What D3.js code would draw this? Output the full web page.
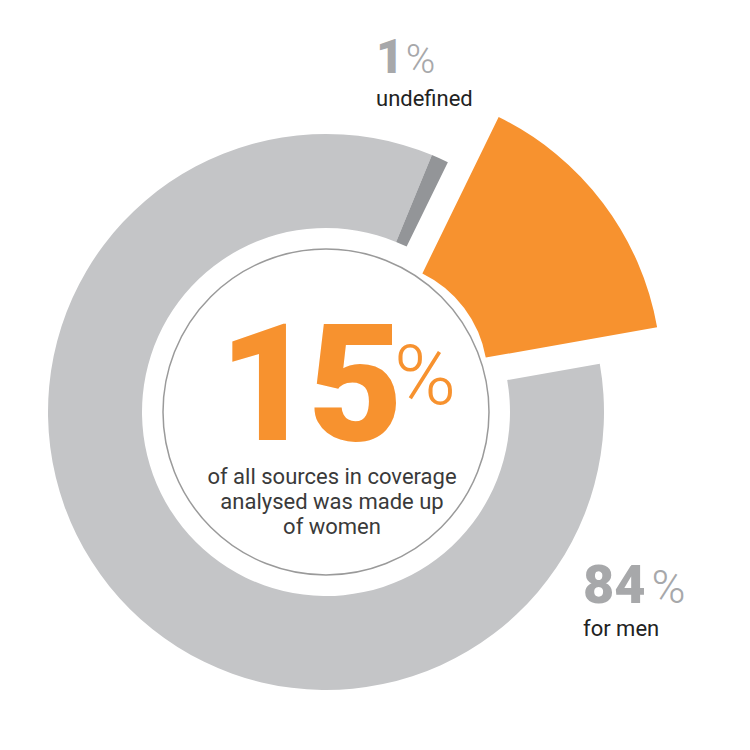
<!DOCTYPE html>
<html><head><meta charset="utf-8">
<script src="https://cdn.jsdelivr.net/npm/d3@7"></script>
<style>body{margin:0;background:#fff}</style></head>
<body><svg id="c" width="750" height="750"></svg>
<script>
const categories = ["men", "undefined", "women"];
const values = [84, 1, 15];
const colors = ["#c4c5c7", "#939598", "#f7922f"];
const labels = [
  {num: "84", text: "for men"},
  {num: "1", text: "undefined"},
  {num: "15", text: "of all sources in coverage|analysed was made up|of women"}
];
const svg = d3.select("#c");
const cx = 326, cy = 412;
const g = svg.append("g").attr("transform", `translate(${cx},${cy})`);
const start = 80 * Math.PI / 180;
const pie = d3.pie().sort(null).startAngle(start).endAngle(start + 2 * Math.PI);
const arcs = pie(values);
const ringArc = d3.arc().innerRadius(184).outerRadius(278);
const bigArc = d3.arc().innerRadius(116).outerRadius(290);
arcs.forEach((a, i) => {
  if (i === 2) {
    const mid = (a.startAngle + a.endAngle) / 2, off = 57;
    g.append("path").attr("d", bigArc(a)).attr("fill", colors[i])
      .attr("transform", `translate(${off * Math.sin(mid)},${-off * Math.cos(mid)})`);
  } else {
    g.append("path").attr("d", ringArc(a)).attr("fill", colors[i]);
  }
});
g.append("circle").attr("r", 163).attr("fill", "#fff").attr("stroke", "#9a9a9a").attr("stroke-width", 1.5);

const ff = "Roboto, 'Open Sans', sans-serif";
g.append("text").attr("x", -18).attr("y", 28).attr("text-anchor", "middle")
  .attr("font-family", ff).attr("font-weight", 900).attr("font-size", 164)
  .attr("letter-spacing", -6).attr("fill", colors[2]).text(labels[2].num);
g.append("text").attr("x", 68).attr("y", -8).attr("font-family", ff).attr("font-weight", 300)
  .attr("font-size", 84).attr("fill", colors[2]).text("%");
labels[2].text.split("|").forEach((t, i) => {
  g.append("text").attr("x", 6).attr("y", 72 + i * 25).attr("text-anchor", "middle")
    .attr("font-family", ff).attr("font-size", 22).attr("fill", "#3a3a3a").text(t);
});

function outer(x, y, num, text, numSize, pctSize, pctDx) {
  const t = svg.append("text").attr("x", x).attr("y", y).attr("font-family", ff);
  t.append("tspan").attr("font-weight", 900).attr("font-size", numSize).attr("fill", "#a7a8aa").text(num);
  t.append("tspan").attr("dx", pctDx).attr("font-weight", 300).attr("font-size", pctSize).attr("fill", "#a7a8aa").text("%");
  svg.append("text").attr("x", x).attr("y", y + 33).attr("font-family", ff).attr("font-size", 22)
    .attr("fill", "#222").text(text);
}
outer(376, 73, labels[1].num, labels[1].text, 48, 40, 2);
outer(583, 603, labels[0].num, labels[0].text, 54, 46, 6);
</script></body></html>
